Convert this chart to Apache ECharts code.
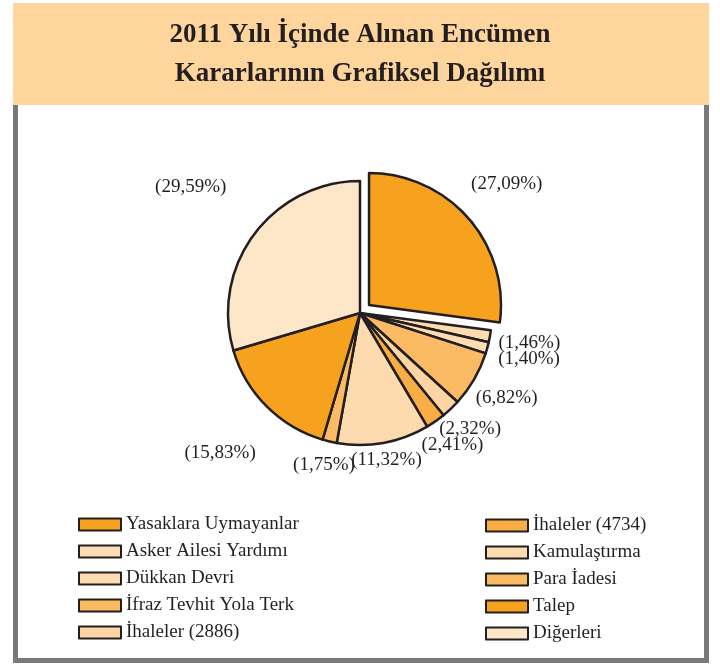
<!DOCTYPE html>
<html>
<head>
<meta charset="utf-8">
<script src="https://cdn.jsdelivr.net/npm/echarts@6/dist/echarts.min.js"></script>
<style>
  html, body { margin: 0; padding: 0; background: #fff; }
  #chart { width: 720px; height: 664px; }
</style>
</head>
<body>
<div id="chart"></div>
<script>
// kategoriler ve yüzdeler (saat yönünde, tepeden başlayarak)
const categories = [
  'Yasaklara Uymayanlar', 'Asker Ailesi Yardımı', 'Dükkan Devri',
  'İfraz Tevhit Yola Terk', 'İhaleler (2886)', 'İhaleler (4734)',
  'Kamulaştırma', 'Para İadesi', 'Talep', 'Diğerleri'
]
const percents = [27.09, 1.46, 1.40, 6.82, 2.32, 2.41, 11.32, 1.75, 15.83, 29.59]
const colors = [
  '#f7a21f', '#fddcb1', '#fddcb1', '#fbbb64', '#fdd5a3',
  '#f9ad44', '#fddbae', '#fbbb64', '#f7a21f', '#fee6c9'
]
// etiketin daireden uzaklığı (px), dilim başına
const labelGaps = [18, 8, 11, 6, 0, 4, 2, 8, 34, 45]
const leftLegend = categories.slice(0, 5)
const rightLegend = categories.slice(5)

const chart = echarts.init(document.getElementById('chart'))
const serif = 'Liberation Serif'
const ink = '#231f20'
const pieCenter = [360, 313]
const pieRadius = 132
const explode = 12
const explodedIndex = 0

const total = percents.reduce((a, b) => a + b, 0)
const midAngles = []
let acc = 0
percents.forEach(v => {
  midAngles.push((acc + v / 2) / total * Math.PI * 2)
  acc += v
})
// ayrık dilimin merkezi, orta açısı boyunca kaydırılmış
const explodedCenter = [
  pieCenter[0] + Math.sin(midAngles[explodedIndex]) * explode,
  pieCenter[1] - Math.cos(midAngles[explodedIndex]) * explode
]

// etiketleri dilim ortasından dışarı doğru yerleştir
function labelPlacer(center) {
  return function (params) {
    const i = params.dataIndex
    const a = midAngles[i]
    const dx = Math.sin(a), dy = -Math.cos(a)
    const w = params.labelRect.width, h = params.labelRect.height
    const extent = Math.abs(dx) * w / 2 + Math.abs(dy) * h / 2
    const d = pieRadius + labelGaps[i] + extent
    return {
      x: center[0] + dx * d,
      y: center[1] + dy * d,
      align: 'center',
      verticalAlign: 'middle'
    }
  }
}

const hidden = { color: 'rgba(0,0,0,0)', borderWidth: 0 }

function pieSeries(center, visible) {
  return {
    type: 'pie',
    center: center,
    radius: pieRadius,
    startAngle: 90,
    clockwise: true,
    avoidLabelOverlap: false,
    silent: true,
    itemStyle: { borderColor: ink, borderWidth: 2.5 },
    emphasis: { disabled: true },
    label: {
      show: true,
      position: 'outside',
      fontFamily: serif,
      fontSize: 19,
      color: ink,
      formatter: p => '(' + p.value.toFixed(2).replace('.', ',') + '%)'
    },
    labelLine: { show: false },
    labelLayout: labelPlacer(center),
    data: categories.map((name, i) => ({
      name,
      value: percents[i],
      itemStyle: visible(i) ? { color: colors[i] } : hidden,
      label: { show: visible(i) }
    }))
  }
}

const legendBase = {
  orient: 'vertical',
  itemWidth: 42,
  itemHeight: 12,
  itemGap: 8,
  icon: 'rect',
  selectedMode: false,
  textStyle: { fontFamily: serif, fontSize: 19, color: ink }
}
const legendItems = names => names.map(name => ({
  name,
  itemStyle: { color: colors[categories.indexOf(name)], borderColor: ink, borderWidth: 2 }
}))

chart.setOption({
  animation: false,
  title: {
    text: '2011 Yılı İçinde Alınan Encümen\nKararlarının Grafiksel Dağılımı',
    left: 'center',
    top: 11,
    textStyle: {
      fontFamily: serif,
      fontWeight: 'bold',
      fontSize: 27,
      lineHeight: 39,
      color: ink
    }
  },
  graphic: [
    { type: 'rect', z: -1, shape: { x: 13, y: 3, width: 696, height: 102 }, style: { fill: '#ffd59e' } },
    { type: 'rect', z: -1, shape: { x: 13, y: 105, width: 5, height: 558 }, style: { fill: '#7a7a7a' } },
    { type: 'rect', z: -1, shape: { x: 704, y: 105, width: 5, height: 558 }, style: { fill: '#7a7a7a' } },
    { type: 'rect', z: -1, shape: { x: 13, y: 658, width: 696, height: 5 }, style: { fill: '#7a7a7a' } }
  ],
  legend: [
    Object.assign({ data: legendItems(leftLegend), left: 73, top: 510 }, legendBase),
    Object.assign({ data: legendItems(rightLegend), left: 480, top: 511 }, legendBase)
  ],
  series: [
    pieSeries(pieCenter, i => i !== explodedIndex),
    pieSeries(explodedCenter, i => i === explodedIndex)
  ]
})
</script>
</body>
</html>
